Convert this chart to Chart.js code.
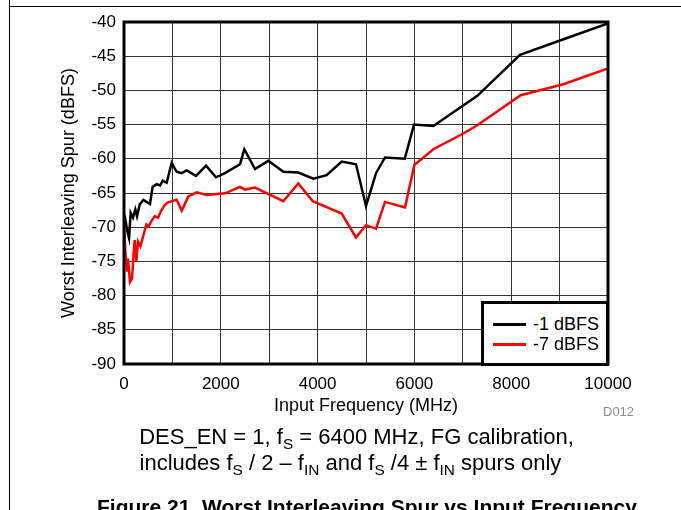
<!DOCTYPE html>
<html><head><meta charset="utf-8">
<script src="https://cdn.jsdelivr.net/npm/chart.js@4"></script>
<style>
html,body{margin:0;padding:0;background:#fff;}
#wrap{position:relative;width:681px;height:510px;overflow:hidden;font-family:Arial,"Liberation Sans",sans-serif;color:#000;}
#c{position:absolute;left:0;top:0;}
.vline{position:absolute;left:9px;top:0;width:1px;height:510px;background:#000;}
.hline{position:absolute;left:9px;top:6px;width:672px;height:1px;background:#000;}
#legend{position:absolute;left:481px;top:301px;width:128px;height:65px;background:#fff;border:3px solid #000;box-sizing:border-box;}
.li{position:absolute;left:0;height:20px;width:120px;}
.li .sw{position:absolute;left:9px;top:9px;width:33px;height:3px;}
.li .tx{position:absolute;left:49px;top:0;font-size:18px;line-height:20px;white-space:nowrap;}
.cap{position:absolute;left:0;width:681px;text-align:center;font-size:22px;line-height:26px;white-space:nowrap;}
.cap sub{font-size:70%;vertical-align:-0.3em;line-height:0;}
#d012{position:absolute;left:603px;top:404px;font-size:13px;line-height:16px;color:#8a8a8a;}
#fig{position:absolute;left:97px;top:496px;font-size:21px;line-height:21px;font-weight:bold;white-space:nowrap;}
</style></head>
<body>
<div id="wrap">
<canvas id="c" width="681" height="510"></canvas>
<div class="vline"></div><div class="hline"></div>
<div id="legend"></div>
<div id="d012">D012</div>
<div class="cap" style="top:424px;left:16px">DES_EN = 1, f<sub>S</sub> = 6400 MHz, FG calibration,</div>
<div class="cap" style="top:450px;left:10px">includes f<sub>S</sub> / 2 – f<sub>IN</sub> and f<sub>S</sub> /4 ± f<sub>IN</sub> spurs only</div>
<div id="fig">Figure 21. Worst Interleaving Spur vs Input Frequency</div>
</div>
<script>
const seriesNames = ['-1 dBFS', '-7 dBFS'];
const seriesColors = ['#000000', '#ff0000'];

const freqBlack = [0, 28, 69, 104, 138, 186, 234, 269, 324, 400, 537, 592, 675, 745, 799, 882, 985, 1088, 1192, 1295, 1488, 1694, 1901, 2087, 2397, 2486, 2707, 2982, 3292, 3600, 3912, 4187, 4497, 4793, 5000, 5207, 5393, 5800, 5992, 6391, 7300, 8182, 9008, 10000];
const valBlack = [-69.6, -68.9, -70.6, -71.6, -67.9, -68.6, -67.4, -68.4, -66.7, -66.0, -66.6, -64.1, -63.7, -63.9, -63.2, -63.5, -60.6, -61.9, -62.1, -61.7, -62.5, -61.0, -62.7, -62.1, -60.8, -58.6, -61.5, -60.3, -61.9, -62.0, -62.9, -62.4, -60.4, -60.8, -66.9, -62.1, -59.8, -60.0, -55.0, -55.2, -50.8, -44.8, -42.7, -40.2];

const freqRed = [0, 28, 62, 83, 124, 166, 200, 221, 255, 290, 338, 393, 462, 511, 566, 635, 704, 759, 828, 897, 1088, 1192, 1329, 1501, 1708, 2087, 2397, 2500, 2707, 3292, 3600, 3900, 4497, 4793, 5000, 5207, 5393, 5806, 5999, 6391, 7011, 7300, 8196, 9077, 10000];
const valRed = [-69.4, -73.6, -76.5, -74.6, -78.0, -77.5, -73.8, -71.9, -75.0, -72.1, -72.8, -71.4, -69.6, -69.9, -69.1, -68.4, -68.6, -67.7, -66.9, -66.4, -66.0, -67.6, -65.5, -64.9, -65.3, -65.05, -64.1, -64.5, -64.2, -66.2, -63.6, -66.2, -68.0, -71.5, -69.7, -70.2, -66.3, -67.1, -60.9, -58.6, -56.3, -55.1, -50.7, -49.1, -46.8];

const xTickLabels = ['0', '2000', '4000', '6000', '8000', '10000'];
const yTickLabels = ['-90', '-85', '-80', '-75', '-70', '-65', '-60', '-55', '-50', '-45', '-40'];

const xTitle = 'Input Frequency (MHz)';
const yTitle = 'Worst Interleaving Spur (dBFS)';

function pts(xs, ys) { return xs.map((x, i) => ({x: x, y: ys[i]})); }

Chart.defaults.font.family = 'Arial, "Liberation Sans", sans-serif';
Chart.defaults.color = '#000';

const frame = {
  id: 'frame',
  afterDatasetsDraw(chart) {
    const a = chart.chartArea, ctx = chart.ctx;
    ctx.save();
    ctx.strokeStyle = '#000';
    ctx.lineWidth = 3;
    ctx.strokeRect(a.left, a.top, a.right - a.left, a.bottom - a.top);
    ctx.restore();
  }
};

new Chart(document.getElementById('c'), {
  type: 'line',
  data: {
    datasets: [
      {label: seriesNames[0], data: pts(freqBlack, valBlack), borderColor: seriesColors[0], backgroundColor: seriesColors[0], borderWidth: 2.5, pointRadius: 0, tension: 0},
      {label: seriesNames[1], data: pts(freqRed, valRed), borderColor: seriesColors[1], backgroundColor: seriesColors[1], borderWidth: 2.5, pointRadius: 0, tension: 0}
    ]
  },
  options: {
    responsive: false,
    animation: false,
    layout: {padding: {left: 58, top: 22, right: 73, bottom: 93}},
    plugins: {legend: {display: false}, tooltip: {enabled: false}},
    scales: {
      x: {
        type: 'linear', min: 0, max: 10000,
        afterFit(s) { s.height = 53; },
        ticks: {stepSize: 1000, padding: 10, maxRotation: 0, autoSkip: false, font: {size: 17},
          callback: (v) => { const i = xTickLabels.indexOf(String(v)); return i >= 0 ? xTickLabels[i] : ''; }},
        grid: {color: '#333', lineWidth: 1, drawTicks: false},
        border: {display: false},
        title: {display: true, text: xTitle, font: {size: 18}, padding: 0}
      },
      y: {
        type: 'linear', min: -90, max: -40,
        afterFit(s) { s.width = 66; },
        ticks: {stepSize: 5, padding: 8, font: {size: 17},
          callback: (v) => { const i = yTickLabels.indexOf(String(v)); return i >= 0 ? yTickLabels[i] : ''; }},
        grid: {color: '#333', lineWidth: 1, drawTicks: false},
        border: {display: false},
        title: {display: true, text: yTitle, font: {size: 18}, padding: 0}
      }
    }
  },
  plugins: [frame]
});

const lg = document.getElementById('legend');
seriesNames.forEach((n, i) => {
  const d = document.createElement('div');
  d.className = 'li';
  d.style.top = (10 + i * 20) + 'px';
  d.innerHTML = '<div class="sw" style="background:' + seriesColors[i] + '"></div><div class="tx"></div>';
  d.querySelector('.tx').textContent = n;
  lg.appendChild(d);
});
</script>
</body></html>
